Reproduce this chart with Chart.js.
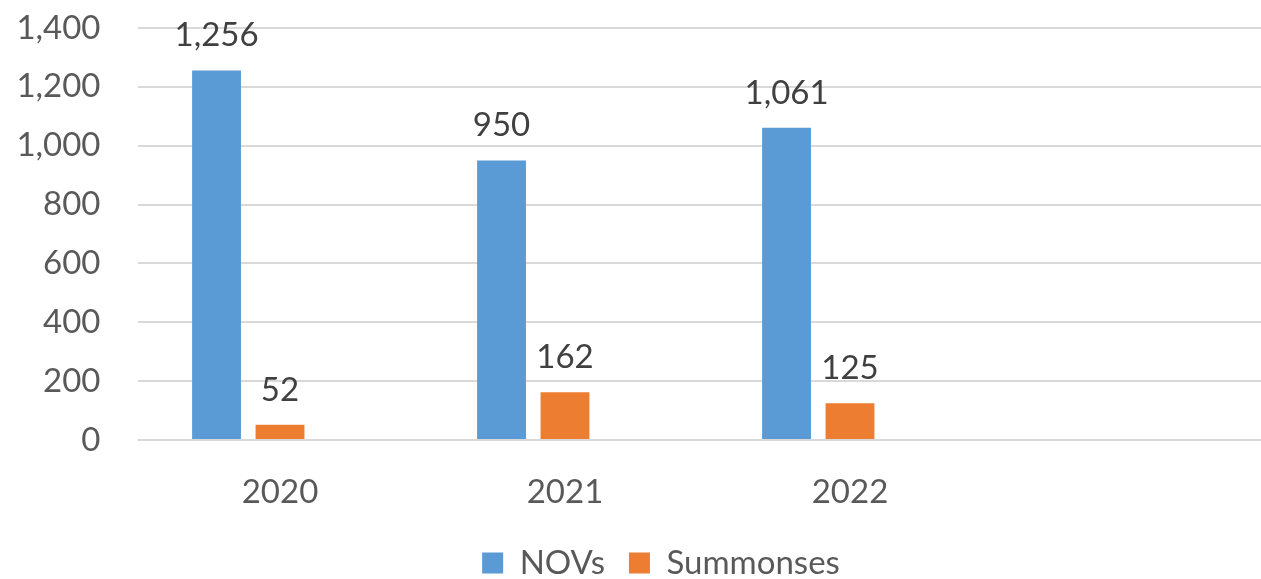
<!DOCTYPE html>
<html><head><meta charset="utf-8">
<script src="https://cdn.jsdelivr.net/npm/chart.js@4/dist/chart.umd.min.js"></script>
<style>
html,body{margin:0;padding:0;background:#fff;overflow:hidden;}
#wrap{width:1261px;height:579px;overflow:hidden;position:relative;background:#fff;}
#c{position:absolute;left:0;top:0;}
</style></head><body>
<div id="wrap"><canvas id="c" width="1376" height="600"></canvas></div>
<script>
const categories = ['2020', '2021', '2022', ''];
const novs = [1256, 950, 1061, null];
const summonses = [52, 162, 125, null];
const emptySeries = [null, null, null, null];
const seriesNames = ['NOVs', 'Summonses'];
const yTicks = [0, 200, 400, 600, 800, 1000, 1200, 1400];

const FONT = 'Lato';

const valueLabels = {
  id: 'valueLabels',
  afterDatasetsDraw(chart) {
    const ctx = chart.ctx;
    ctx.save();
    ctx.font = '33px ' + FONT;
    ctx.fillStyle = '#404040';
    ctx.textAlign = 'center';
    ctx.textBaseline = 'alphabetic';
    chart.data.datasets.forEach((ds, i) => {
      if (!ds.showValues) return;
      chart.getDatasetMeta(i).data.forEach((bar, j) => {
        const v = ds.data[j];
        if (v == null) return;
        ctx.fillText(v.toLocaleString('en-US'), bar.x, bar.y - 24);
      });
    });
    ctx.restore();
  }
};

new Chart(document.getElementById('c'), {
  type: 'bar',
  data: {
    labels: categories,
    datasets: [
      { label: seriesNames[0], data: novs, backgroundColor: '#5B9BD5', showValues: true },
      { label: seriesNames[1], data: summonses, backgroundColor: '#ED7D31', showValues: true },
      { label: '', data: emptySeries, backgroundColor: 'rgba(0,0,0,0)' }
    ]
  },
  options: {
    responsive: false,
    animation: false,
    devicePixelRatio: 1,
    datasets: { bar: { categoryPercentage: 0.668, barPercentage: 0.77 } },
    layout: { padding: { top: 28, left: 0, right: 54, bottom: 10.5 } },
    plugins: {
      legend: {
        position: 'bottom',
        labels: {
          font: { family: FONT, size: 33 },
          color: '#595959',
          boxWidth: 21,
          boxHeight: 21,
          padding: 24,
          filter: (item) => item.text !== ''
        }
      },
      tooltip: { enabled: false }
    },
    scales: {
      x: {
        grid: { display: false, drawTicks: false },
        border: { display: false },
        ticks: { font: { family: FONT, size: 33 }, color: '#595959', padding: 33, maxRotation: 0 },
        afterFit: (s) => { s.height = 82.5; }
      },
      y: {
        min: 0, max: 1400,
        afterBuildTicks: (s) => { s.ticks = yTicks.map(v => ({ value: v })); },
        grid: { color: '#d9d9d9', lineWidth: 2, drawTicks: false },
        border: { display: false },
        ticks: { font: { family: FONT, size: 33 }, color: '#595959', padding: 37 },
        afterFit: (s) => { s.width = 137.5; s.paddingTop = 0; s.paddingBottom = 0; }
      },
      yRight: {
        position: 'right',
        grid: { display: false, drawTicks: false },
        border: { display: false },
        ticks: { display: false },
        afterFit: (s) => { s.width = 44.5; s.paddingTop = 0; s.paddingBottom = 0; }
      }
    }
  },
  plugins: [valueLabels]
});
</script>
</body></html>
